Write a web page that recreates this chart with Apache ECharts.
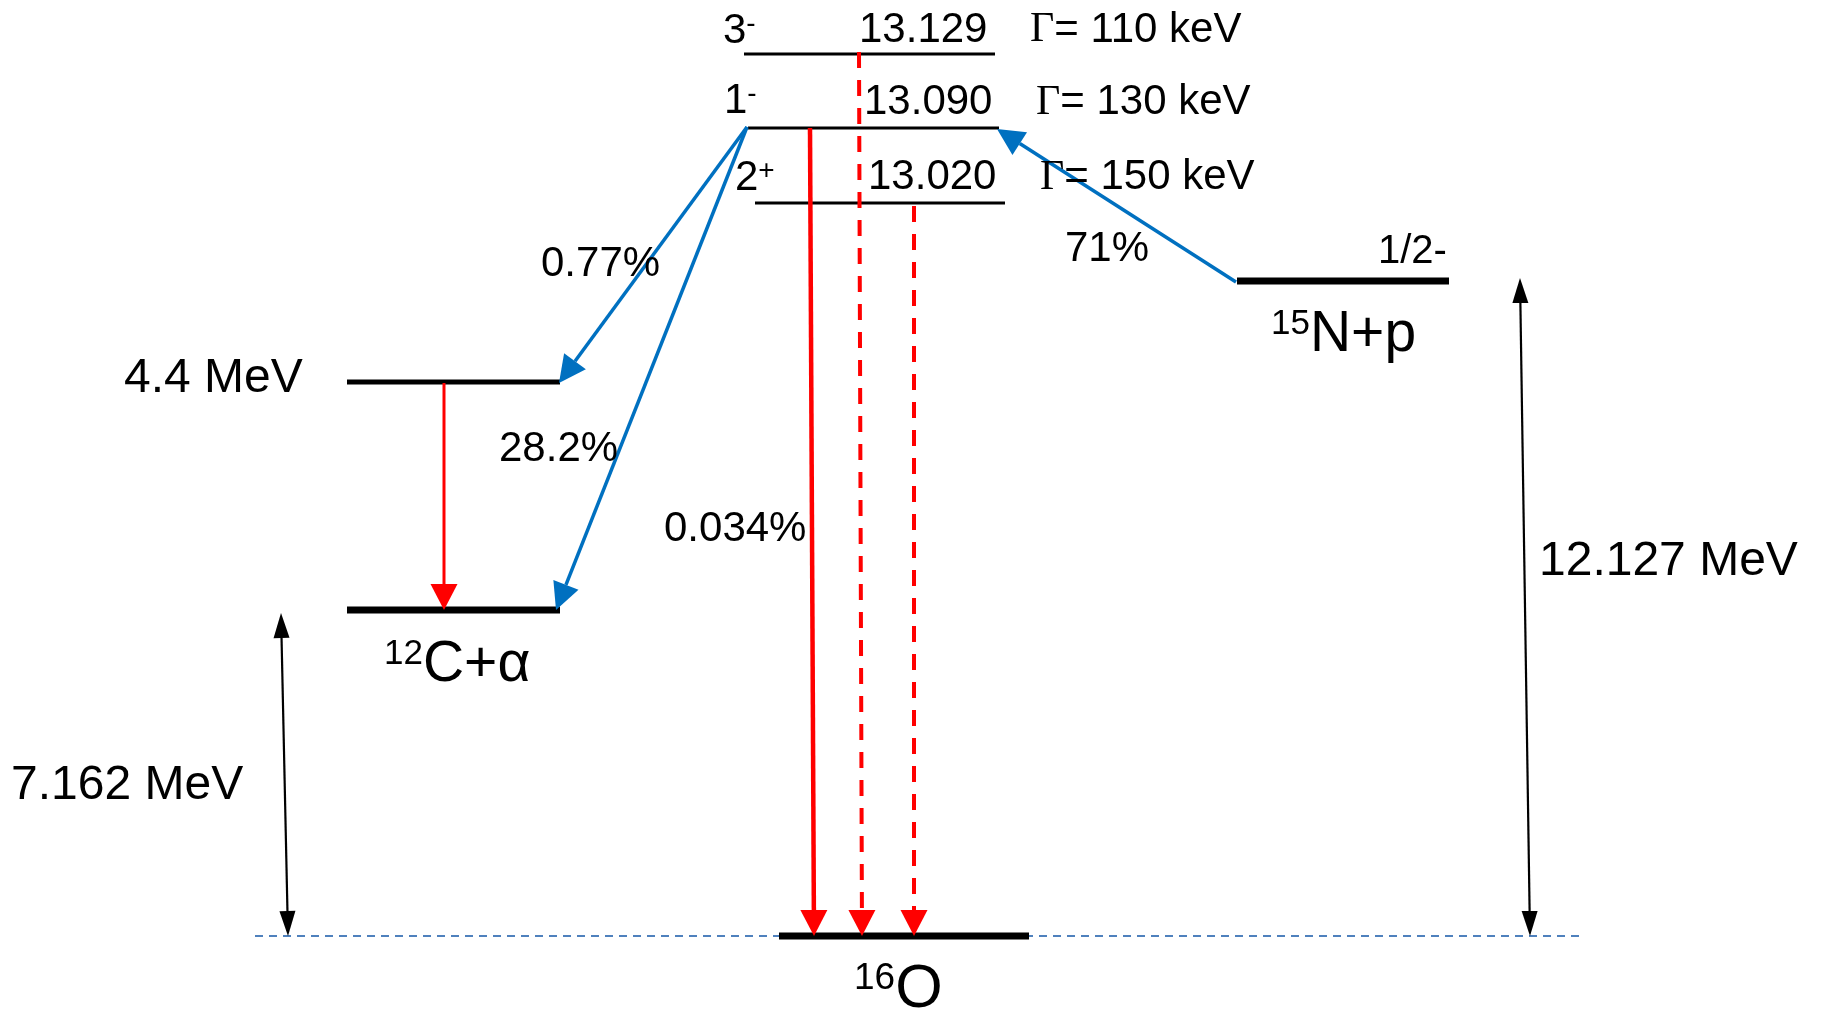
<!DOCTYPE html>
<html>
<head>
<meta charset="utf-8">
<title>16O levels near the 15N+p threshold</title>
<script src="https://cdn.jsdelivr.net/npm/echarts@6.0.0/dist/echarts.min.js"></script>
<style>
  html, body { margin: 0; padding: 0; background: #ffffff; }
  #chart { width: 1821px; height: 1011px; }
</style>
</head>
<body>
<div id="chart"></div>
<script>
// ---- Physics values ----
// 16O resonances above the proton threshold
const resonanceJpi = ['3-', '1-', '2+'];
const resonanceEnergies = [13.129, 13.090, 13.020];   // MeV
const resonanceWidths = [110, 130, 150];             // keV

// Thresholds (MeV above the 16O ground state)
const thresholdEnergies = [7.162, 12.127];           // 12C+α, 15N+p
const carbonExcitedEnergy = 4.4;                     // 12C first excited state, MeV
const protonChannelSpin = '1/2-';

// Channels: mass number and remaining symbol
const channelMass = ['12', '15', '16'];
const channelRest = ['C+α', 'N+p', 'O'];

// Branches of the 1- resonance, in percent
const branchNames = ['α1', 'α0', 'γ0', 'p'];
const branchPercent = [0.77, 28.2, 0.034, 71];

// ---- Schematic layout (not to scale): x across the page, y = height above the 16O ground line ----
const X_MAX = 182.1, Y_MIN = -7.5, Y_MAX = 93.6;

const levelLayout = {
  '3-':   { x: [74.4, 99.5],  y: 88.2, width: 3 },
  '1-':   { x: [74.8, 99.9],  y: 80.8, width: 3 },
  '2+':   { x: [75.5, 100.5], y: 73.3, width: 3 },
  'N+p':  { x: [123.7, 144.9], y: 65.5, width: 7 },
  'C*':   { x: [34.7, 56.0],  y: 55.4, width: 5 },
  'C+α':  { x: [34.7, 56.0],  y: 32.6, width: 7 },
  'O':    { x: [77.9, 102.9], y: 0,    width: 7 }
};

const BLUE = '#0070c0', RED = '#ff0000', BLACK = '#000000';

// Transitions: from point, to point, style
const arrowLayout = [
  // 1- decays to 12C(4.4)+α and 12C+α
  { from: [74.7, 80.9], to: [55.9, 55.3], color: BLUE, width: 3.5, head: [27, 27] },
  { from: [74.7, 80.9], to: [55.6, 32.6], color: BLUE, width: 3.5, head: [27, 27] },
  // 15N+p entrance channel
  { from: [123.6, 65.4], to: [99.7, 80.7], color: BLUE, width: 3.5, head: [27, 27] },
  // 12C 4.4 MeV γ
  { from: [44.4, 55.3], to: [44.4, 32.6], color: RED, width: 3, head: [26, 27] },
  // γ decays to the 16O ground state
  { from: [81.0, 80.8], to: [81.4, 0], color: RED, width: 4.5, head: [26, 27] },
  { from: [85.9, 88.4], to: [86.2, 0], color: RED, width: 4, dash: [16, 12], head: [26, 27] },
  { from: [91.4, 73.0], to: [91.4, 0], color: RED, width: 4, dash: [16, 12], head: [26, 27] },
  // Threshold gaps
  { from: [28.1, 32.3], to: [28.8, 0], color: BLACK, width: 2.2, head: [25, 16], both: true },
  { from: [152.0, 65.8], to: [153.0, 0], color: BLACK, width: 2.2, head: [25, 16], both: true }
];

const groundLine = { from: [25.5, 0], to: [158.2, 0] };

// Text anchors: left edge, vertical centre
const textLayout = {
  jpi:     [[72.3, 90.7], [72.4, 83.7], [73.5, 76.0]],
  energy:  [[85.9, 90.8], [86.4, 83.55], [86.8, 76.05]],
  width:   [[103.0, 90.8], [103.6, 83.55], [104.0, 76.05]],
  spin:    [137.8, 68.6],
  channel: [[38.4, 27.3], [127.1, 60.3], [85.4, -5.25]],
  branch:  [[54.1, 67.35], [49.9, 48.9], [66.4, 40.85], [106.5, 68.85]],
  carbon:  [12.4, 55.95],
  thresh:  [[1.1, 15.25], [153.9, 37.6]]
};

const SANS = '"Liberation Sans", Arial, sans-serif';
const SERIF = '"Liberation Serif", "Times New Roman", serif';

// ---- Build series data ----
const levelKeys = ['3-', '1-', '2+', 'N+p', 'C*', 'C+α', 'O'];
const levelData = levelKeys.map(k => [levelLayout[k].x[0], levelLayout[k].x[1], levelLayout[k].y]);

const arrowData = arrowLayout.map(a => [a.from[0], a.from[1], a.to[0], a.to[1]]);

const richStyles = {
  n: { fontFamily: SANS, fontSize: 42, lineHeight: 42, fill: '#000' },
  s: { fontFamily: SANS, fontSize: 28, lineHeight: 28, verticalAlign: 'top', fill: '#000' },
  g: { fontFamily: SERIF, fontSize: 42, lineHeight: 42, fill: '#000' },
  big: { fontFamily: SANS, fontSize: 57, lineHeight: 57, fill: '#000' },
  bigs: { fontFamily: SANS, fontSize: 35, lineHeight: 35, verticalAlign: 'top', fill: '#000' },
  huge: { fontFamily: SANS, fontSize: 61, lineHeight: 61, fill: '#000' },
  huges: { fontFamily: SANS, fontSize: 37, lineHeight: 37, verticalAlign: 'top', fill: '#000' },
  mev: { fontFamily: SANS, fontSize: 48, lineHeight: 48, fill: '#000' },
  sp: { fontFamily: SANS, fontSize: 40, lineHeight: 40, fill: '#000' }
};

const textItems = [];
resonanceJpi.forEach((jp, i) => {
  textItems.push({ pos: textLayout.jpi[i], text: `{n|${jp[0]}}{s|${jp.slice(1)}}` });
  textItems.push({ pos: textLayout.energy[i], text: `{n|${resonanceEnergies[i].toFixed(3)}}` });
  textItems.push({ pos: textLayout.width[i], text: `{g|Γ}{n|= ${resonanceWidths[i]} keV}` });
});
textItems.push({ pos: textLayout.spin, text: `{sp|${protonChannelSpin}}` });
channelMass.forEach((m, i) => {
  // the compound nucleus is written a little larger than the two-body channels
  const [sup, main] = channelRest[i] === 'O' ? ['huges', 'huge'] : ['bigs', 'big'];
  textItems.push({ pos: textLayout.channel[i], text: `{${sup}|${m}}{${main}|${channelRest[i]}}` });
});
branchPercent.forEach((b, i) => {
  textItems.push({ pos: textLayout.branch[i], text: `{n|${b}%}` });
});
textItems.push({ pos: textLayout.carbon, text: `{mev|${carbonExcitedEnergy} MeV}` });
thresholdEnergies.forEach((e, i) => {
  textItems.push({ pos: textLayout.thresh[i], text: `{mev|${e.toFixed(3)} MeV}` });
});
const textData = textItems.map(t => [t.pos[0], t.pos[1]]);

// ---- Drawing helpers ----
function headPoints(p, q, len, wid) {
  const dx = q[0] - p[0], dy = q[1] - p[1];
  const d = Math.hypot(dx, dy) || 1;
  const ux = dx / d, uy = dy / d;
  const bx = q[0] - ux * len, by = q[1] - uy * len;
  return {
    base: [bx, by],
    poly: [[q[0], q[1]], [bx - uy * wid / 2, by + ux * wid / 2], [bx + uy * wid / 2, by - ux * wid / 2]]
  };
}

function renderLevel(params, api) {
  const key = levelKeys[params.dataIndex];
  const a = api.coord([api.value(0), api.value(2)]);
  const b = api.coord([api.value(1), api.value(2)]);
  return {
    type: 'line',
    shape: { x1: a[0], y1: a[1], x2: b[0], y2: b[1] },
    style: { stroke: '#000', lineWidth: levelLayout[key].width, lineCap: 'butt' }
  };
}

function renderArrow(params, api) {
  const cfg = arrowLayout[params.dataIndex];
  const p = api.coord([api.value(0), api.value(1)]);
  const q = api.coord([api.value(2), api.value(3)]);
  const children = [];
  const endHead = headPoints(p, q, cfg.head[0], cfg.head[1]);
  let start = p;
  if (cfg.both) {
    const startHead = headPoints(q, p, cfg.head[0], cfg.head[1]);
    start = startHead.base;
    children.push({ type: 'polygon', shape: { points: startHead.poly }, style: { fill: cfg.color } });
  }
  children.push({
    type: 'line',
    shape: { x1: start[0], y1: start[1], x2: endHead.base[0], y2: endHead.base[1] },
    style: { stroke: cfg.color, lineWidth: cfg.width, lineDash: cfg.dash || null, lineCap: 'butt' }
  });
  children.push({ type: 'polygon', shape: { points: endHead.poly }, style: { fill: cfg.color } });
  return { type: 'group', children };
}

function renderText(params, api) {
  const item = textItems[params.dataIndex];
  const p = api.coord([api.value(0), api.value(1)]);
  return {
    type: 'text',
    style: {
      x: p[0], y: p[1] + 2,
      text: item.text,
      rich: richStyles,
      align: 'left',
      verticalAlign: 'middle',
      fill: '#000'
    }
  };
}

function renderGround(params, api) {
  const a = api.coord([api.value(0), api.value(1)]);
  const b = api.coord([api.value(2), api.value(3)]);
  return {
    type: 'line',
    shape: { x1: a[0], y1: a[1], x2: b[0], y2: b[1] },
    style: { stroke: '#4f81bd', lineWidth: 2, lineDash: [8, 6] }
  };
}

const chart = echarts.init(document.getElementById('chart'), null, { renderer: 'canvas' });
chart.setOption({
  animation: false,
  backgroundColor: '#ffffff',
  grid: { left: 0, right: 0, top: 0, bottom: 0, containLabel: false },
  xAxis: { type: 'value', min: 0, max: X_MAX, show: false },
  yAxis: { type: 'value', min: Y_MIN, max: Y_MAX, show: false },
  tooltip: { show: false },
  series: [
    { type: 'custom', name: 'ground', renderItem: renderGround, silent: true, z: 1,
      data: [[groundLine.from[0], groundLine.from[1], groundLine.to[0], groundLine.to[1]]] },
    { type: 'custom', name: 'levels', renderItem: renderLevel, silent: true, z: 2, data: levelData },
    { type: 'custom', name: 'transitions', renderItem: renderArrow, silent: true, z: 3, data: arrowData },
    { type: 'custom', name: 'labels', renderItem: renderText, silent: true, z: 4, data: textData }
  ]
});
</script>
</body>
</html>
